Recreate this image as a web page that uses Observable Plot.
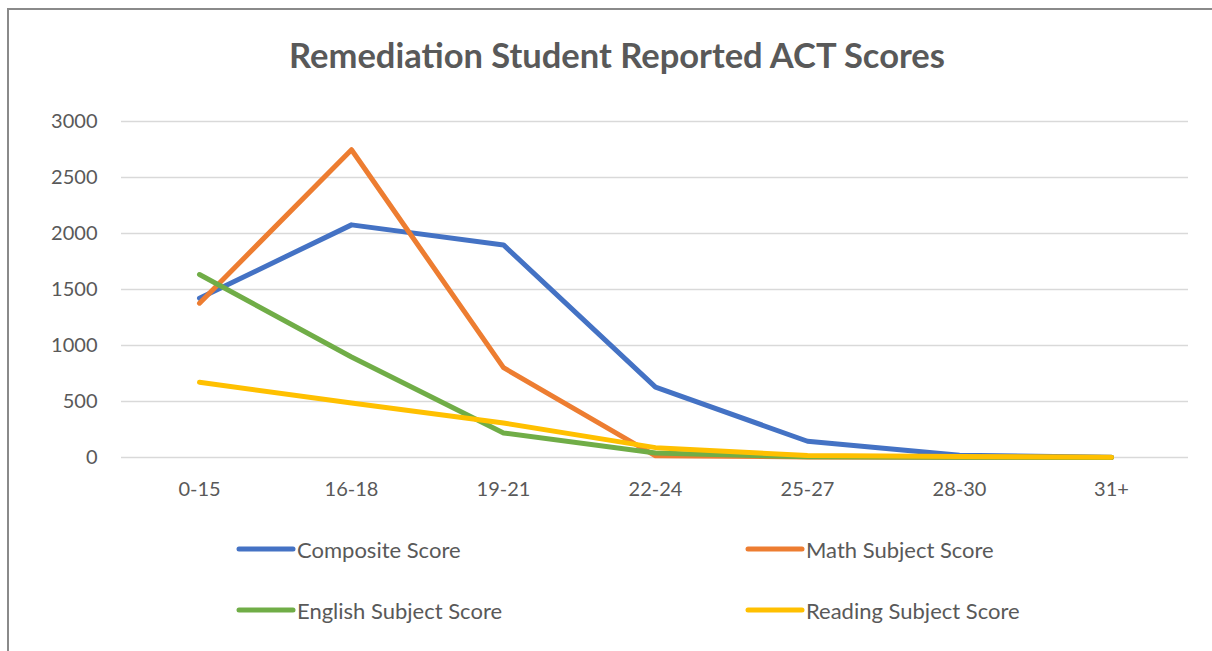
<!DOCTYPE html>
<html>
<head>
<meta charset="utf-8">
<script src="https://cdn.jsdelivr.net/npm/d3@7"></script>
<script src="https://cdn.jsdelivr.net/npm/@observablehq/plot@0.6"></script>
<style>
  html, body { margin: 0; padding: 0; background: #fff; }
  body { width: 1212px; height: 651px; position: relative; overflow: hidden; font-family: Lato, "Open Sans", sans-serif; color: #595959; }
  #frame { position: absolute; left: 7px; top: 8px; width: 1300px; height: 700px; border-left: 2px solid #8a8a8a; border-top: 2px solid #8a8a8a; }
  #title { position: absolute; left: 617px; top: 33px; transform: translateX(-50%); font-size: 34.5px; font-weight: bold; white-space: nowrap; color: #595959; line-height: 44px; }
  #chart { position: absolute; left: 0; top: 0; }
  .leg { position: absolute; display: flex; align-items: center; font-size: 22px; color: #595959; white-space: nowrap; }
  .leg svg { margin-right: 1px; }
</style>
</head>
<body>
<div id="frame"></div>
<div id="title">Remediation Student Reported ACT Scores</div>
<div id="chart"></div>
<div id="legend"></div>
<script>
const categories = ["0-15", "16-18", "19-21", "22-24", "25-27", "28-30", "31+"];
const seriesNames = ["Composite Score", "Math Subject Score", "English Subject Score", "Reading Subject Score"];
const seriesColors = ["#4472C4", "#ED7D31", "#70AD47", "#FFC000"];
const composite = [1422, 2077, 1898, 629, 145, 20, 3];
const math = [1378, 2748, 802, 15, 5, 2, 1];
const english = [1634, 897, 219, 40, 6, 3, 1];
const reading = [671, 487, 308, 88, 18, 10, 3];
const yTicks = [0, 500, 1000, 1500, 2000, 2500, 3000];

const seriesValues = [composite, math, english, reading];
const data = [];
seriesNames.forEach((name, si) => {
  categories.forEach((c, ci) => data.push({ series: name, category: c, value: seriesValues[si][ci] }));
});

const plot = Plot.plot({
  width: 1212,
  height: 510,
  marginLeft: 121,
  marginRight: 24,
  marginTop: 121,
  marginBottom: 53,
  style: { fontFamily: "Lato, 'Open Sans', sans-serif", color: "#595959", background: "transparent", overflow: "visible" },
  x: { type: "point", domain: categories, padding: 0.5 },
  y: { domain: [0, 3000] },
  color: { domain: seriesNames, range: seriesColors },
  marks: [
    Plot.gridY(yTicks, { stroke: "#d9d9d9", strokeOpacity: 1, strokeWidth: 1.5 }),
    Plot.axisY(yTicks, { tickSize: 0, tickPadding: 24, fontSize: 20, label: null, tickFormat: d => String(d) }),
    Plot.axisX({ tickSize: 0, tickPadding: 24, fontSize: 20, label: null }),
    Plot.lineY(data, { x: "category", y: "value", z: "series", stroke: "series", strokeWidth: 5, strokeLinecap: "round", strokeLinejoin: "round" })
  ]
});
document.getElementById("chart").appendChild(plot);

const legendPos = [
  { left: 236, top: 549 },
  { left: 745, top: 549 },
  { left: 236, top: 610 },
  { left: 745, top: 610 }
];
const legend = document.getElementById("legend");
seriesNames.forEach((name, i) => {
  const d = document.createElement("div");
  d.className = "leg";
  d.style.left = legendPos[i].left + "px";
  d.style.top = (legendPos[i].top - 15) + "px";
  d.style.height = "30px";
  d.innerHTML = `<svg width="60" height="10"><line x1="3" y1="5" x2="57" y2="5" stroke="${seriesColors[i]}" stroke-width="5" stroke-linecap="round"/></svg><span>${name}</span>`;
  legend.appendChild(d);
});
</script>
</body>
</html>
